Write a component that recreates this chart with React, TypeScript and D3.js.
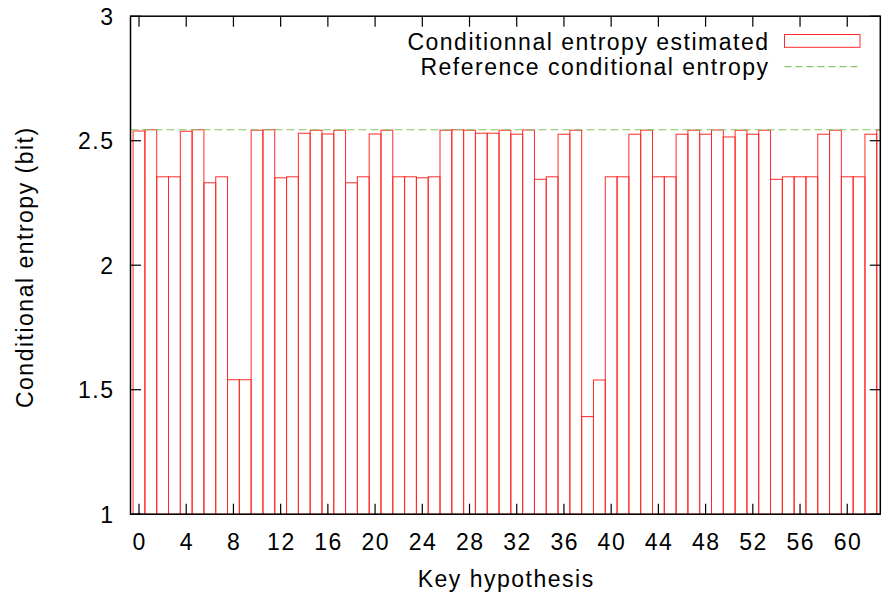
import React from "react";
import * as d3 from "d3";

const keyHypotheses: number[] = d3.range(0, 64);
const estimatedEntropy: number[] = [
  2.539, 2.544, 2.355, 2.355, 2.538, 2.544, 2.331, 2.355, 1.540, 1.540,
  2.542, 2.544, 2.351, 2.355, 2.530, 2.542, 2.527, 2.542, 2.331, 2.355,
  2.527, 2.542, 2.355, 2.355, 2.351, 2.355, 2.542, 2.544, 2.542, 2.530,
  2.530, 2.542, 2.526, 2.543, 2.345, 2.355, 2.526, 2.542, 1.392, 1.539,
  2.355, 2.355, 2.526, 2.542, 2.355, 2.355, 2.526, 2.542, 2.526, 2.543,
  2.515, 2.542, 2.526, 2.542, 2.345, 2.355, 2.355, 2.355, 2.526, 2.542,
  2.355, 2.355, 2.526, 2.543,
];
const referenceEntropy = 2.544;
const xTicks: number[] = d3.range(0, 64, 4);
const yTicks: number[] = [1, 1.5, 2, 2.5, 3];
const yTickLabels: string[] = ["1", "1.5", "2", "2.5", "3"];
const legendLabels: string[] = ["Conditionnal entropy estimated", "Reference conditional entropy"];

const W = 883;
const H = 597;
const L = 130.5;
const R = 880.3;
const T = 16.2;
const B = 514.2;
const RED = "#ff2a2a";
const GREEN = "#86c664";
const FONT = "'Liberation Sans', Arial, Helvetica, sans-serif";
const FS = 23;
const LS = 1.5;

export default function App() {
  const x = d3.scaleLinear().domain([-0.72, 62.8]).range([L, R]);
  const y = d3.scaleLinear().domain([1, 3]).range([B, T]);
  const tick = 10.5;
  return (
    <svg width={W} height={H} style={{ position: "absolute", left: 0, top: 0, background: "#fff" }}
      fontFamily={FONT}>
      <defs>
        <clipPath id="plot">
          <rect x={L} y={T} width={R - L} height={B - T} />
        </clipPath>
      </defs>
      <rect x={0} y={0} width={W} height={H} fill="#fff" />
      <g clipPath="url(#plot)">
        {keyHypotheses.map((k, i) => (
          <rect key={k} x={x(k - 0.5)} y={y(estimatedEntropy[i])}
            width={x(k + 0.5) - x(k - 0.5)} height={y(1) - y(estimatedEntropy[i])}
            fill="none" stroke={RED} strokeWidth={1} />
        ))}
        <line x1={L} x2={R} y1={y(referenceEntropy)} y2={y(referenceEntropy)}
          stroke={GREEN} strokeWidth={1.2} strokeDasharray="8,4" />
      </g>
      <g stroke="#000" strokeWidth={1.2}>
        {xTicks.map((t) => (
          <g key={t}>
            <line x1={x(t)} x2={x(t)} y1={B} y2={B - tick} />
            <line x1={x(t)} x2={x(t)} y1={T} y2={T + tick} />
          </g>
        ))}
        {yTicks.map((t) => (
          <g key={t}>
            <line x1={L} x2={L + tick} y1={y(t)} y2={y(t)} />
            <line x1={R} x2={R - tick} y1={y(t)} y2={y(t)} />
          </g>
        ))}
      </g>
      <rect x={L} y={T} width={R - L} height={B - T} fill="none" stroke="#000" strokeWidth={1.5} />
      <g fontSize={FS} fill="#000" letterSpacing={LS}>
        {xTicks.map((t) => (
          <text key={t} x={x(t) + LS / 2} y={550} textAnchor="middle">{t}</text>
        ))}
        {yTicks.map((t, i) => (
          <text key={t} x={113 + LS} y={y(t) + 8.5} textAnchor="end">{yTickLabels[i]}</text>
        ))}
        <text x={(L + R) / 2 + LS / 2} y={587} textAnchor="middle">Key hypothesis</text>
        <text transform={`translate(33, ${(T + B) / 2 + 2}) rotate(-90)`} textAnchor="middle">
          Conditional entropy (bit)
        </text>
        <text x={768 + LS} y={50} textAnchor="end">{legendLabels[0]}</text>
        <text x={768 + LS} y={75} textAnchor="end">{legendLabels[1]}</text>
      </g>
      <rect x={784.5} y={34.5} width={75.5} height={12.8} fill="none" stroke={RED} strokeWidth={1} />
      <line x1={784.5} x2={860} y1={66.7} y2={66.7} stroke={GREEN} strokeWidth={1.2} strokeDasharray="7,4" />
    </svg>
  );
}
